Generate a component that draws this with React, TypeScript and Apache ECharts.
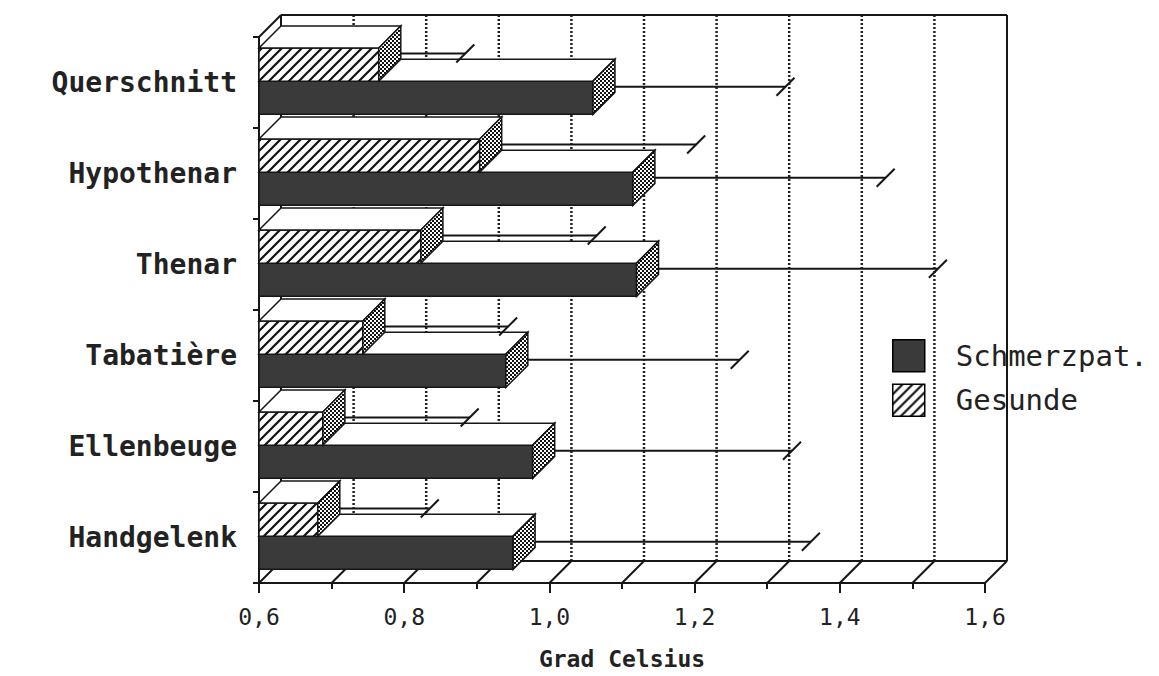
import React, { useEffect, useRef } from 'react';
import * as echarts from 'echarts';

// ---- data (top to bottom as in the picture) ----
const categories = ['Querschnitt', 'Hypothenar', 'Thenar', 'Tabatière', 'Ellenbeuge', 'Handgelenk'];
const schmerzValues = [1.06, 1.115, 1.12, 0.94, 0.977, 0.95];
const schmerzErrors = [0.25, 0.333, 0.4, 0.307, 0.342, 0.395];
const gesundValues = [0.765, 0.904, 0.823, 0.743, 0.688, 0.681];
const gesundErrors = [0.104, 0.283, 0.227, 0.185, 0.187, 0.139];
const seriesNames = ['Schmerzpat.', 'Gesunde'];
const xTickLabels = ['0,6', '0,8', '1,0', '1,2', '1,4', '1,6'];
const X_MIN = 0.6;
const X_MAX = 1.6;
const X_STEP = 0.2;
const MINOR_COUNT = 10; // gridlines every 0.1

// ---- 3D look ----
const DX = 22;
const DY = -22;
const INK = '#161616';
const DARK = '#3a3a3a';

function makeHatch() {
  const c = document.createElement('canvas');
  c.width = 10;
  c.height = 10;
  const ctx = c.getContext('2d')!;
  ctx.fillStyle = '#fff';
  ctx.fillRect(0, 0, 10, 10);
  ctx.strokeStyle = '#111';
  ctx.lineWidth = 2.2;
  ctx.beginPath();
  ctx.moveTo(-1, 11);
  ctx.lineTo(11, -1);
  ctx.moveTo(-6, 6);
  ctx.lineTo(6, -6);
  ctx.moveTo(4, 16);
  ctx.lineTo(16, 4);
  ctx.stroke();
  return { image: c, repeat: 'repeat', imageWidth: 10, imageHeight: 10 };
}

function makeChecker() {
  const c = document.createElement('canvas');
  c.width = 4;
  c.height = 4;
  const ctx = c.getContext('2d')!;
  ctx.fillStyle = '#fff';
  ctx.fillRect(0, 0, 4, 4);
  ctx.fillStyle = '#111';
  ctx.fillRect(0, 0, 2, 2);
  ctx.fillRect(2, 2, 2, 2);
  return { image: c, repeat: 'repeat', imageWidth: 4, imageHeight: 4 };
}

function seg(x1: number, y1: number, x2: number, y2: number, style: any) {
  return { type: 'line', shape: { x1, y1, x2, y2 }, style };
}

function makeBarRenderer(fill: any, checker: any, topFrac: number, botFrac: number) {
  return (params: any, api: any) => {
    const ci = api.value(0);
    const v = api.value(1);
    const e = api.value(2);
    const p0 = api.coord([X_MIN, ci]);
    const p1 = api.coord([v, ci]);
    const p2 = api.coord([v + e, ci]);
    const bw = api.size([0, 1])[1];
    const cy = p0[1];
    const top = cy + topFrac * bw;
    const bot = cy + botFrac * bw;
    const x0 = p0[0];
    const x1 = p1[0];
    const xe = p2[0] + DX / 2;
    const midY = (top + bot) / 2 + DY / 2;
    const ls = { stroke: INK, lineWidth: 2 };
    const fs = { stroke: INK, lineWidth: 1.5 };
    return {
      type: 'group',
      children: [
        seg(x1 + DX / 2, midY, xe, midY, ls),
        seg(xe - 9, midY + 9, xe + 9, midY - 9, ls),
        { type: 'rect', shape: { x: x0, y: top, width: x1 - x0, height: bot - top }, style: { fill, ...fs } },
        {
          type: 'polygon',
          shape: { points: [[x0, top], [x1, top], [x1 + DX, top + DY], [x0 + DX, top + DY]] },
          style: { fill: '#fff', ...fs },
        },
        {
          type: 'polygon',
          shape: { points: [[x1, top], [x1 + DX, top + DY], [x1 + DX, bot + DY], [x1, bot]] },
          style: { fill: checker, ...fs },
        },
      ],
    };
  };
}

function frameRenderer(params: any, api: any) {
  const cs = params.coordSys;
  const left = cs.x;
  const top = cs.y;
  const right = cs.x + cs.width;
  const bottom = cs.y + cs.height;
  const solid = { stroke: INK, lineWidth: 2 };
  const dotted = { stroke: '#222', lineWidth: 2.5, lineDash: [2, 2] };
  const children: any[] = [];
  for (let k = 0; k <= MINOR_COUNT; k++) {
    const v = X_MIN + ((X_MAX - X_MIN) * k) / MINOR_COUNT;
    const x = api.coord([v, 0])[0];
    if (k > 0 && k < MINOR_COUNT) children.push(seg(x + DX, top + DY, x + DX, bottom + DY, dotted));
    children.push(seg(x, bottom, x + DX, bottom + DY, solid));
  }
  children.push(seg(left + DX, top + DY, right + DX, top + DY, solid));
  children.push(seg(right + DX, top + DY, right + DX, bottom + DY, solid));
  children.push(seg(left + DX, bottom + DY, right + DX, bottom + DY, solid));
  children.push(seg(left + DX, top + DY, left + DX, bottom + DY, solid));
  children.push(seg(left, top, left + DX, top + DY, solid));
  return { type: 'group', children };
}

export default function App() {
  const ref = useRef<HTMLDivElement>(null);
  useEffect(() => {
    if (!ref.current) return;
    document.body.style.margin = '0';
    const chart = echarts.init(ref.current, undefined, { renderer: 'svg' });
    const hatch = makeHatch();
    const checker = makeChecker();
    const darkData = categories.map((_, i) => [i, schmerzValues[i], schmerzErrors[i]]);
    const hatchData = categories.map((_, i) => [i, gesundValues[i], gesundErrors[i]]);
    const option: any = {
      animation: false,
      backgroundColor: '#fff',
      tooltip: { show: false },
      grid: { left: 259, top: 37, width: 726, height: 546, containLabel: false, outerBoundsMode: 'none' },
      legend: {
        data: seriesNames,
        orient: 'vertical',
        left: 887,
        top: 334,
        icon: 'rect',
        itemWidth: 32,
        itemHeight: 32,
        itemGap: 11,
        selectedMode: false,
        itemStyle: { borderColor: '#000', borderWidth: 1.5 },
        textStyle: {
          fontFamily: 'DejaVu Sans Mono',
          fontSize: 29,
          color: '#222',
          padding: [0, 0, 0, 26],
        },
      },
      xAxis: {
        type: 'value',
        min: X_MIN,
        max: X_MAX,
        interval: X_STEP,
        name: 'Grad Celsius',
        nameLocation: 'middle',
        nameGap: 64,
        nameTextStyle: { fontFamily: 'DejaVu Sans Mono', fontWeight: 'bold', fontSize: 23, color: '#222' },
        axisLine: { show: true, lineStyle: { color: INK, width: 2 } },
        axisTick: { show: true, length: 10, lineStyle: { color: INK, width: 2 } },
        minorTick: { show: true, splitNumber: 2, length: 6, lineStyle: { color: INK, width: 2 } },
        splitLine: { show: false },
        axisLabel: {
          margin: 22,
          fontFamily: 'DejaVu Sans Mono',
          fontSize: 23,
          color: '#222',
          formatter: (val: number) => xTickLabels[Math.round((val - X_MIN) / X_STEP)] ?? '',
        },
      },
      yAxis: {
        type: 'category',
        data: categories,
        inverse: true,
        axisLine: { show: true, lineStyle: { color: INK, width: 2 } },
        axisTick: { show: true, length: 6, lineStyle: { color: INK, width: 2 } },
        splitLine: { show: false },
        axisLabel: {
          margin: 22,
          fontFamily: 'DejaVu Sans Mono',
          fontWeight: 'bold',
          fontSize: 28,
          color: '#222',
        },
      },
      series: [
        {
          type: 'custom',
          name: 'frame',
          z: 1,
          clip: false,
          silent: true,
          data: [[0, X_MIN, 0]],
          encode: { x: 1, y: 0 },
          renderItem: frameRenderer,
        },
        {
          type: 'custom',
          name: seriesNames[0],
          z: 2,
          clip: false,
          itemStyle: { color: DARK },
          data: darkData,
          encode: { x: 1, y: 0 },
          renderItem: makeBarRenderer(DARK, checker, -0.015, 0.35),
        },
        {
          type: 'custom',
          name: seriesNames[1],
          z: 3,
          clip: false,
          itemStyle: { color: hatch },
          data: hatchData,
          encode: { x: 1, y: 0 },
          renderItem: makeBarRenderer(hatch, checker, -0.38, -0.015),
        },
      ],
    };
    chart.setOption(option);
    return () => chart.dispose();
  }, []);
  return <div ref={ref} style={{ width: 1159, height: 676, background: '#fff' }} />;
}
